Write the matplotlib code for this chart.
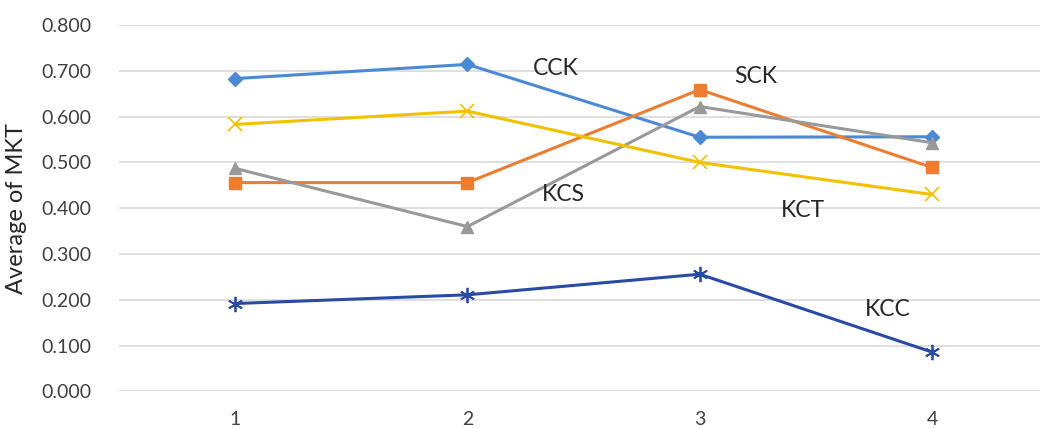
import matplotlib
matplotlib.use("Agg")
import matplotlib.pyplot as plt

plt.rcParams['font.family'] = ['Lato', 'DejaVu Sans']

# average MKT per period, one list per group
periods = [1, 2, 3, 4]
cck = [0.683, 0.714, 0.555, 0.556]
sck = [0.456, 0.456, 0.659, 0.489]
kcs = [0.487, 0.360, 0.622, 0.543]
kct = [0.583, 0.612, 0.500, 0.430]
kcc = [0.192, 0.211, 0.256, 0.086]

fig = plt.figure(figsize=(10.4, 4.28), dpi=100)
ax = fig.add_axes([0.1144, 0.0853, 0.8935, 0.8563])

lw = 2.2
ax.plot(periods, cck, color='#4A8AD4', lw=lw, marker='D', ms=7, zorder=3)
ax.plot(periods, sck, color='#ED7D31', lw=lw, marker='s', ms=9, zorder=3)
ax.plot(periods, kcs, color='#999999', lw=lw, marker='^', ms=9, zorder=3)
ax.plot(periods, kct, color='#F2C100', lw=lw, marker='x', ms=10, mew=1.2, zorder=3)
ax.plot(periods, kcc, color='#2A4BA3', lw=lw, marker=(6, 2, 0), ms=11, mew=1.3, zorder=3)

# series names placed next to their lines
lab = dict(fontsize=16.5, color='#262626', va='center')
ax.text(2.28, 0.705, 'CCK', **lab)
ax.text(3.15, 0.688, 'SCK', **lab)
ax.text(2.32, 0.429, 'KCS', **lab)
ax.text(3.35, 0.396, 'KCT', **lab)
ax.text(3.71, 0.178, 'KCC', **lab)

ax.set_xlim(0.5, 4.5)
ax.set_ylim(0, 0.8)
ax.set_xticks(periods)
ax.set_yticks([i / 10 for i in range(9)])
ax.set_yticklabels(['%.3f' % (i / 10) for i in range(9)])
ax.tick_params(length=0, labelsize=14, colors='#404040', pad=20)
ax.tick_params(axis='x', pad=14)
ax.set_ylabel('Average of MKT', fontsize=17, color='#262626', labelpad=10)
ax.yaxis.grid(True, color='#D9D9D9', lw=1.2)
ax.set_axisbelow(True)
for s in ax.spines.values():
    s.set_visible(False)

fig.savefig('out.png', dpi=100)
